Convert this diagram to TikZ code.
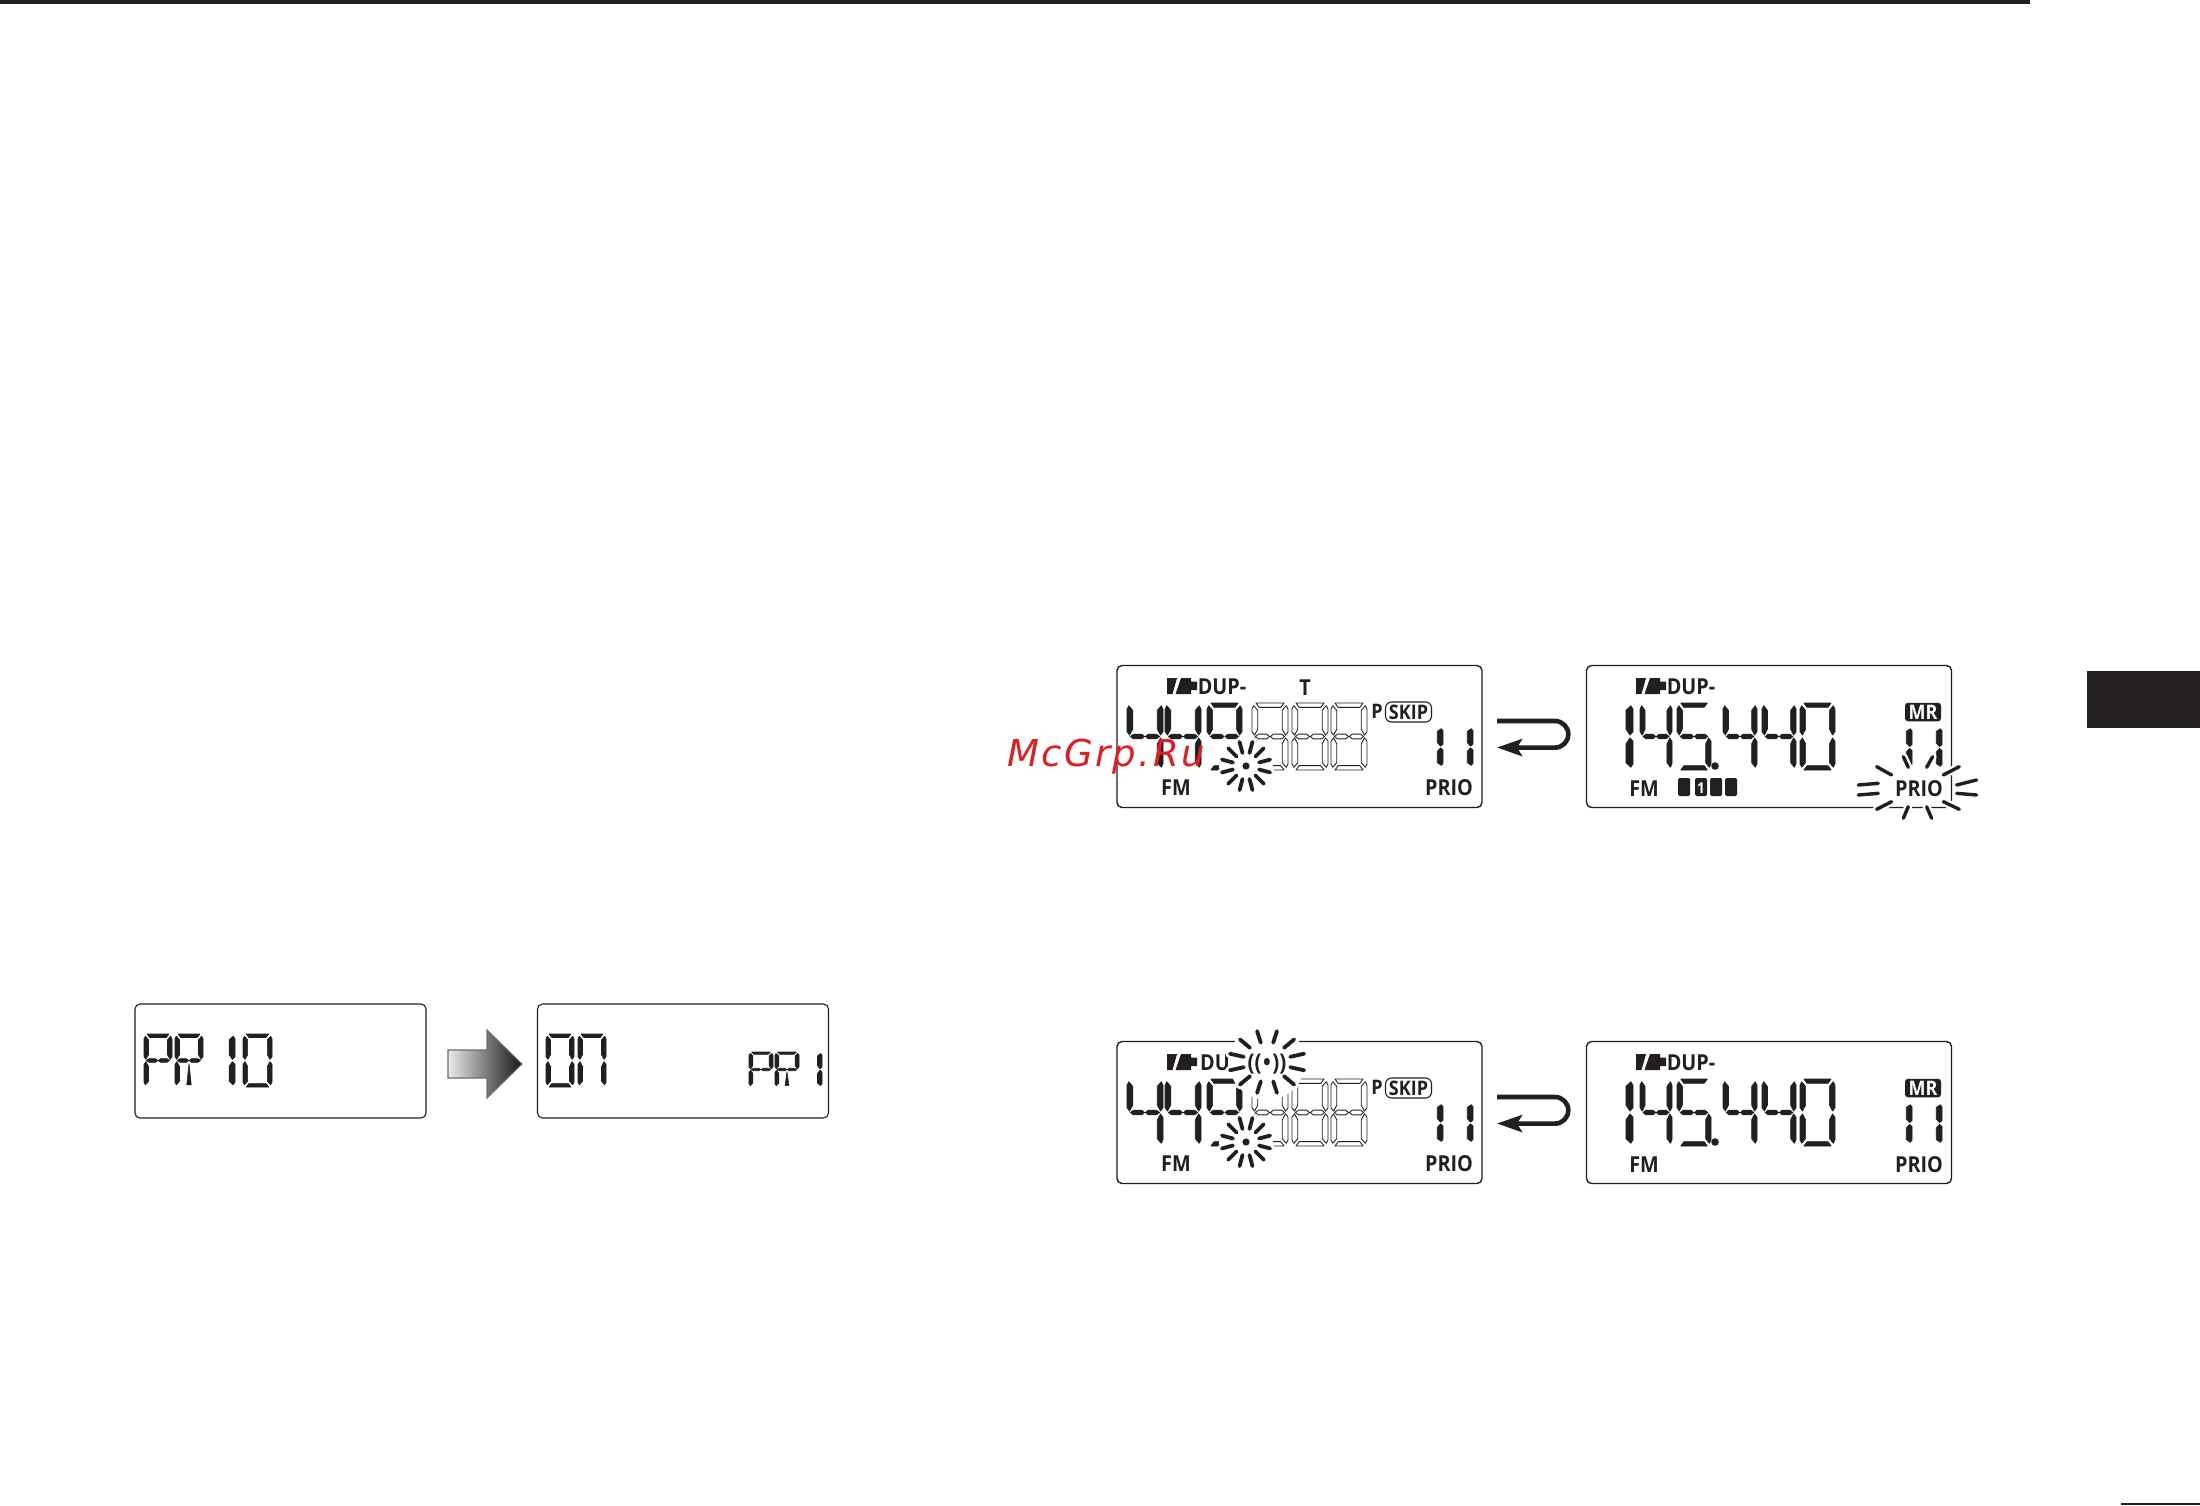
\documentclass[tikz,border=0pt]{standalone}
\usepackage{fontspec}
\usetikzlibrary{arrows.meta}
\newfontfamily\lcdfont[FakeStretch=.9]{Open Sans}
\newfontfamily\wmfont[LetterSpace=6.5]{DejaVu Sans}
\definecolor{ink}{HTML}{231F20}
\definecolor{wm}{HTML}{DD1F26}
% segments in a unit box, y downward
\def\segA{(.11,0)--(.89,0)--(.80,.065)--(.20,.065)--cycle}
\def\segD{(.11,1)--(.89,1)--(.80,.935)--(.20,.935)--cycle}
\def\segF{(0,.09)--(.05,.04)--(.16,.11)--(.16,.39)--(.07,.48)--(0,.43)--cycle}
\def\segB{(1,.09)--(.95,.04)--(.84,.11)--(.84,.39)--(.93,.48)--(1,.43)--cycle}
\def\segE{(0,.91)--(.05,.96)--(.16,.89)--(.16,.61)--(.07,.52)--(0,.57)--cycle}
\def\segC{(1,.91)--(.95,.96)--(.84,.89)--(.84,.61)--(.93,.52)--(1,.57)--cycle}
\def\segG{(.09,.5)--(.18,.465)--(.41,.465)--(.49,.5)--(.41,.535)--(.18,.535)--cycle}
\def\segH{(.91,.5)--(.82,.465)--(.59,.465)--(.51,.5)--(.59,.535)--(.82,.535)--cycle}
\def\segS{(.5,.56)--(.58,.96)--(.42,.96)--cycle}
\newcommand\dig[6][solidseg]{%
  \begin{scope}[shift={(#2,#3)},x=#4pt,y=-#5pt]
    \foreach \s in #6 {\path[#1] \csname seg\s\endcsname;}
  \end{scope}}
\def\lFour{F,B,G,H,C}
\def\lNine{A,B,C,D,F,G,H}
\def\lEight{A,B,C,D,E,F,G,H}
\def\lFive{A,F,G,H,C,D}
\def\lZero{A,B,C,D,E,F}
\def\lOne{B,C}
\def\lP{A,B,F,E,G,H}
\def\lR{A,B,F,E,G,H,S}
\def\ln{A,B,C,E,F}
\newcommand\battery[1]{%
  \begin{scope}[shift={(#1,0)}]
    \fill[ink] (0,678)--(10,678)--(5.5,694)--(0,694)--cycle;
    \fill[ink] (14,678)--(24,678)--(24,681.5)--(30,681.5)--(30,690)--(24,690)--(24,694)--(8.5,694)--cycle;
  \end{scope}}
\newcommand\rays[5]{% cx cy r1 r2 xscale
  \foreach \a in {15,45,...,345}{
    \path[rayhalo] ({#1+#5*#3*cos(\a)},{#2+#3*sin(\a)})--({#1+#5*#4*cos(\a)},{#2+#4*sin(\a)});}
  \foreach \a in {15,45,...,345}{
    \path[ray] ({#1+#5*#3*cos(\a)},{#2+#3*sin(\a)})--({#1+#5*#4*cos(\a)},{#2+#4*sin(\a)});}}
\tikzset{
  solidseg/.style={fill=ink,draw=ink,line width=.6pt,line join=round},
  hollowseg/.style={fill=white,draw=ink,line width=.85pt,line join=round},
  panel/.style={draw=ink,line width=1.4pt,rounded corners=5pt,fill=white,inner sep=0pt,minimum width=365pt,minimum height=142pt},
  narrowpanel/.style={draw=ink,line width=1.1pt,rounded corners=5pt,fill=white,inner sep=0pt,minimum width=291pt,minimum height=114pt},
  label/.style={inner sep=0pt,anchor=base,text=ink,font=\lcdfont\bfseries\fontsize{22}{22}\selectfont},
  small/.style={inner sep=0pt,anchor=base,text=ink,font=\lcdfont\bfseries\fontsize{20}{20}\selectfont},
  ray/.style={draw=ink,line width=3.8pt,line cap=round},
  rayhalo/.style={draw=white,line width=9pt,line cap=round},
  loop/.style={draw=ink,line width=4.6pt,-{Stealth[length=25pt,width=17pt,inset=5pt]}},
  pill/.style={rounded corners=3pt,inner sep=0pt}
}
\begin{document}
\begin{tikzpicture}[x=1pt,y=-1pt]
\useasboundingbox (0,0) rectangle (2200,1505);
\fill[white] (0,0) rectangle (2200,1505);
% page furniture
\fill[ink] (0,0) rectangle (2030,3.5);
\fill[ink] (2087,671) rectangle (2200,728);
\fill[ink] (2121,1503) rectangle (2200,1505);

% ---------- left pair ----------
\node[narrowpanel] (pa) at (280.5,1061) {};
\dig{144}{1034}{28}{53}{\lP}
\dig{175}{1034}{28}{53}{\lR}
\dig{198}{1034}{37}{53}{\lOne}
\dig{243}{1034}{29}{53}{\lZero}
\node[narrowpanel] (pb) at (683,1061) {};
\dig{546}{1034}{28}{53}{\lZero}
\dig{578}{1034}{28}{53}{\ln}
\dig{749}{1052}{24}{35}{\lP}
\dig{775}{1052}{24}{35}{\lR}
\dig{794}{1052}{28}{35}{\lOne}
\path[draw=ink!65,line width=1.1pt,left color=black!8,right color=black!92]
  (448,1050)--(487,1050)--(487,1030)--(522,1064)--(487,1098)--(487,1078)--(448,1078)--cycle;

% ---------- display 1 ----------
\node[panel] (p1) at (1299.5,736.5) {};
\battery{1167}
\node[label] (p1dup) at (1222,694) {DUP-};
\node[label] (p1t) at (1305,695) {T};
\dig[hollowseg]{1252}{703}{36}{67}{\lEight}
\dig[hollowseg]{1292}{703}{36}{67}{\lEight}
\dig[hollowseg]{1331}{703}{36}{67}{\lEight}
\dig{1127}{703}{36}{67}{\lFour}
\dig{1165}{703}{36}{67}{\lFour}
\dig{1207}{703}{35}{67}{\lNine}
\node[small] (p1p) at (1377,718) {P};
\node[draw=ink,line width=1.1pt,rounded corners=6pt,minimum width=46pt,minimum height=20pt,inner sep=0pt] (p1skipbox) at (1408.5,712) {};
\node[small] (p1skip) at (1408.5,719) {SKIP};
\dig{1407}{727}{36}{40}{\lOne}
\dig{1437}{727}{36}{40}{\lOne}
\node[label] (p1fm) at (1176,795) {FM};
\node[label] (p1prio) at (1449,795.5) {PRIO};
\fill[white] (1246,766) circle (27pt);
\rays{1246}{766}{13.5}{25}{1}
\fill[ink] (1246,766) circle (3.6pt);
\coordinate (r1s) at (1497,721);
\coordinate (r1e) at (1497,747.5);
\path[loop] (r1s) -- ++(58,0) arc[start angle=90,end angle=-90,radius=13.3pt] -- (r1e);

% ---------- display 2 ----------
\node[panel] (p2) at (1769,736.5) {};
\battery{1636}
\node[label] (p2dup) at (1691,694) {DUP-};
\dig{1589}{703}{44}{67}{\lOne}
\dig{1640}{703}{32}{67}{\lFour}
\dig{1677}{703}{34}{67}{\lFive}
\fill[ink] (1715,766) circle (3.8pt);
\dig{1723}{703}{34}{67}{\lFour}
\dig{1762}{703}{34}{67}{\lFour}
\dig{1800}{703}{35}{67}{\lZero}
\node[pill,fill=ink,minimum width=36pt,minimum height=18.5pt] (p2mrbox) at (1923,712) {};
\node[small,text=white] (p2mr) at (1923,719) {MR};
\dig{1876}{727}{36}{41}{\lOne}
\dig{1906}{727}{36}{41}{\lOne}
\node[label] (p2fm) at (1644,796) {FM};
\foreach \mx in {1678,1695,1710,1725}{\fill[ink,rounded corners=1.5pt] (\mx,778) rectangle ++(12,18);}
\node[inner sep=0pt,anchor=base,text=white,font=\lcdfont\bfseries\fontsize{15}{15}\selectfont] (p2one) at (1701,793) {1};
\begin{scope}[shift={(1480,650)},x=.3333pt,y=-.3333pt]
  \foreach \xa/\ya/\xb/\yb in {1190/350/1235/375,1135/405/1195/400,1135/435/1195/430,1190/478/1235/455,1270/505/1285/470,1355/505/1340/470,1390/455/1438/478,1430/430/1490/435,1430/405/1490/390,1390/375/1438/350,1340/352/1358/320,1285/352/1270/320}{
    \path[draw=white,line width=8pt,line cap=round] (\xa,\ya)--(\xb,\yb);}
  \foreach \xa/\ya/\xb/\yb in {1190/350/1235/375,1135/405/1195/400,1135/435/1195/430,1190/478/1235/455,1270/505/1285/470,1355/505/1340/470,1390/455/1438/478,1430/430/1490/435,1430/405/1490/390,1390/375/1438/350,1340/352/1358/320,1285/352/1270/320}{
    \path[draw=ink,line width=3.4pt,line cap=round] (\xa,\ya)--(\xb,\yb);}
\end{scope}
\node[label] (p2prio) at (1919,796) {PRIO};

% ---------- display 3 ----------
\node[panel] (p3) at (1299.5,1112.5) {};
\begin{scope}[shift={(0,376)}]
  \battery{1167}
  \dig[hollowseg]{1252}{703}{36}{67}{\lEight}
  \dig[hollowseg]{1292}{703}{36}{67}{\lEight}
  \dig[hollowseg]{1331}{703}{36}{67}{\lEight}
  \dig{1127}{703}{36}{67}{\lFour}
  \dig{1165}{703}{36}{67}{\lFour}
  \dig{1207}{703}{35}{67}{\lNine}
  \dig{1407}{727}{36}{40}{\lOne}
  \dig{1437}{727}{36}{40}{\lOne}
\end{scope}
\node[label,anchor=base west] (p3du) at (1200,1070) {DU};
\node[small] (p3p) at (1377,1094) {P};
\node[draw=ink,line width=1.1pt,rounded corners=6pt,minimum width=46pt,minimum height=20pt,inner sep=0pt] (p3skipbox) at (1408.5,1088) {};
\node[small] (p3skip) at (1408.5,1095) {SKIP};
\node[label] (p3fm) at (1176,1171) {FM};
\node[label] (p3prio) at (1449,1171.5) {PRIO};
\fill[white] (1267,1062) circle (38pt);
\rays{1267}{1062}{20}{32}{1.2}
\node[inner sep=0pt,anchor=base,text=ink,font=\lcdfont\bfseries\fontsize{23}{23}\selectfont] (p3wave) at (1267,1070) {((\kern1.5pt•\kern1.5pt))};
\fill[white] (1246,1142) circle (27pt);
\rays{1246}{1142}{13.5}{25}{1}
\fill[ink] (1246,1142) circle (3.6pt);
\coordinate (r2s) at (1497,1097);
\coordinate (r2e) at (1497,1123.5);
\path[loop] (r2s) -- ++(58,0) arc[start angle=90,end angle=-90,radius=13.3pt] -- (r2e);

% ---------- display 4 ----------
\node[panel] (p4) at (1769,1112.5) {};
\begin{scope}[shift={(0,376)}]
  \battery{1636}
  \dig{1589}{703}{44}{67}{\lOne}
  \dig{1640}{703}{32}{67}{\lFour}
  \dig{1677}{703}{34}{67}{\lFive}
  \fill[ink] (1715,766) circle (3.8pt);
  \dig{1723}{703}{34}{67}{\lFour}
  \dig{1762}{703}{34}{67}{\lFour}
  \dig{1800}{703}{35}{67}{\lZero}
  \dig{1876}{727}{36}{41}{\lOne}
  \dig{1906}{727}{36}{41}{\lOne}
\end{scope}
\node[label] (p4dup) at (1691,1070) {DUP-};
\node[pill,fill=ink,minimum width=36pt,minimum height=18.5pt] (p4mrbox) at (1923,1088) {};
\node[small,text=white] (p4mr) at (1923,1095) {MR};
\node[label] (p4fm) at (1644,1172) {FM};
\node[label] (p4prio) at (1919,1172) {PRIO};

% watermark
\node[inner sep=0pt,anchor=base west,text=wm,font=\wmfont\itshape\fontsize{37}{37}\selectfont] (mark) at (1007,766) {McGrp.Ru};
\end{tikzpicture}
\end{document}
